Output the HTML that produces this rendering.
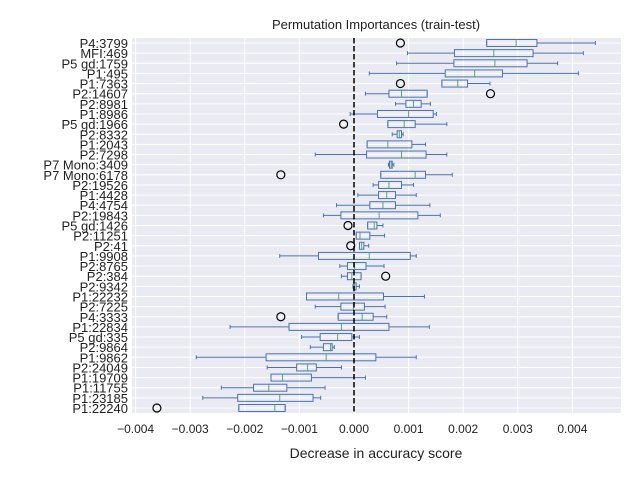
<!DOCTYPE html>
<html><head><meta charset="utf-8"><style>
body{margin:0;background:#fff}
svg{display:block;font-family:"Liberation Sans",sans-serif}
</style></head><body>
<svg id="c" width="640" height="480">
<rect x="0" y="0" width="640" height="480" fill="#fff"/>
<rect x="132" y="38" width="489" height="375" fill="#eaeaf2"/>
<text x="376" y="29" text-anchor="middle" font-size="13" fill="#222">Permutation Importances (train-test)</text>
<text x="376" y="458" text-anchor="middle" font-size="14" fill="#222">Decrease in accuracy score</text>
<g id="grid"></g><g id="marks"></g><g id="labels"></g>
</svg>
<script>
const categories=["P4:3799","MFI:469","P5 gd:1759","P1:495","P1:7363","P2:14607","P2:8981","P1:8986","P5 gd:1966","P2:8332","P1:2043","P2:7298","P7 Mono:3409","P7 Mono:6178","P2:19526","P1:4428","P4:4754","P2:19843","P5 gd:1426","P2:11251","P2:41","P1:9908","P2:8765","P2:384","P2:9342","P1:22232","P2:7225","P4:3333","P1:22834","P5 gd:335","P2:9864","P1:9862","P2:24049","P1:19709","P1:11755","P1:23185","P1:22240"];
// values in units of 0.001
const whiskerLow=[2.43,0.98,0.78,0.28,1.61,0.21,0.76,-0.07,0.62,0.70,0.24,-0.71,0.63,0.49,0.35,0.07,-0.32,-0.56,0.25,0.04,0.10,-1.36,-0.26,-0.23,-0.02,-0.87,-0.71,-0.29,-2.27,-0.96,-0.80,-2.89,-1.59,-1.52,-2.43,-2.77,-2.11];
const q1=[2.43,1.84,1.83,1.67,1.61,0.64,0.95,0.43,0.62,0.79,0.24,0.23,0.65,0.49,0.45,0.45,0.29,-0.24,0.25,0.04,0.10,-0.65,-0.12,-0.12,-0.01,-0.87,-0.24,-0.29,-1.19,-0.62,-0.56,-1.61,-1.05,-1.52,-1.84,-2.13,-2.11];
const medians=[2.97,2.56,2.58,2.21,1.90,0.87,1.09,1.00,0.92,0.83,0.62,0.87,0.68,1.12,0.64,0.60,0.53,0.46,0.37,0.11,0.14,0.28,0.01,-0.04,0.01,-0.28,-0.01,0.15,-0.23,-0.30,-0.43,-0.51,-0.85,-1.31,-1.56,-1.36,-1.45];
const q3=[3.35,3.28,3.17,2.72,2.08,1.34,1.23,1.45,1.12,0.87,1.06,1.32,0.70,1.31,0.87,0.76,0.76,1.17,0.42,0.29,0.18,1.03,0.22,0.13,0.04,0.54,0.19,0.35,0.64,-0.04,-0.40,0.40,-0.69,-0.78,-1.23,-0.75,-1.26];
const whiskerHigh=[4.42,4.20,3.73,4.11,2.49,1.34,1.40,1.51,1.70,0.90,1.31,1.70,0.73,1.80,1.09,1.14,1.39,1.58,0.53,0.56,0.27,1.14,0.55,0.13,0.10,1.29,0.57,0.60,1.38,0.10,-0.36,1.14,-0.23,0.21,-0.53,-0.61,-1.26];
const outlierRows=[0,4,5,8,13,18,20,23,27,36];
const outlierVals=[0.85,0.85,2.50,-0.19,-1.34,-0.11,-0.06,0.58,-1.34,-3.61];
const xTicks=[-4,-3,-2,-1,0,1,2,3,4];
const xTickLabels=["−0.004","−0.003","−0.002","−0.001","0.000","0.001","0.002","0.003","0.004"];

const NS="http://www.w3.org/2000/svg";
const X=v=>354+v*54.6;
const Y=i=>43+i*(365/36);
function mk(p,tag,a){const e=document.createElementNS(NS,tag);for(const k in a)e.setAttribute(k,a[k]);p.appendChild(e);return e;}
const grid=document.getElementById('grid'),marks=document.getElementById('marks'),labels=document.getElementById('labels');
xTicks.forEach((t,i)=>{
 const l=mk(grid,'line',{x1:X(t),x2:X(t),y1:38,y2:413,stroke:'#fff','stroke-width':1});
 
 
 const tx=mk(labels,'text',{x:X(t),y:433,'text-anchor':'middle','font-size':12,fill:'#222'});
 tx.textContent=xTickLabels[i];
 
 
});
categories.forEach((c,i)=>{
 const y=Y(i);
 const g=mk(grid,'line',{x1:132,x2:621,y1:y,y2:y,stroke:'#fff','stroke-width':1});
 
 
 const t=mk(labels,'text',{x:128,y:y+5,'text-anchor':'end','font-size':13,fill:'#222'});
 t.textContent=c;
 
 
 const b=mk(marks,'g',{});
 
 
 const col='#4c72b0',h=3.5;
 mk(b,'line',{x1:X(whiskerLow[i]),x2:X(q1[i]),y1:y,y2:y,stroke:col,'stroke-width':1});
 mk(b,'line',{x1:X(q3[i]),x2:X(whiskerHigh[i]),y1:y,y2:y,stroke:col,'stroke-width':1});
 mk(b,'line',{x1:X(whiskerLow[i]),x2:X(whiskerLow[i]),y1:y-2,y2:y+2,stroke:col,'stroke-width':1});
 mk(b,'line',{x1:X(whiskerHigh[i]),x2:X(whiskerHigh[i]),y1:y-2,y2:y+2,stroke:col,'stroke-width':1});
 mk(b,'rect',{x:X(q1[i]),y:y-h,width:Math.max(1,X(q3[i])-X(q1[i])),height:2*h,fill:'none',stroke:col,'stroke-width':1});
 mk(b,'line',{x1:X(medians[i]),x2:X(medians[i]),y1:y-h,y2:y+h,stroke:'#55a868','stroke-width':1});
});
outlierRows.forEach((r,k)=>{
 const o=mk(marks,'circle',{cx:X(outlierVals[k]),cy:Y(r),r:4,fill:'none',stroke:'#000','stroke-width':1.2});
 
 
});
const z=mk(marks,'line',{x1:X(0),x2:X(0),y1:38,y2:413,stroke:'#000','stroke-width':1.5,'stroke-dasharray':'5.5,2.5'});


</script>
</body></html>
